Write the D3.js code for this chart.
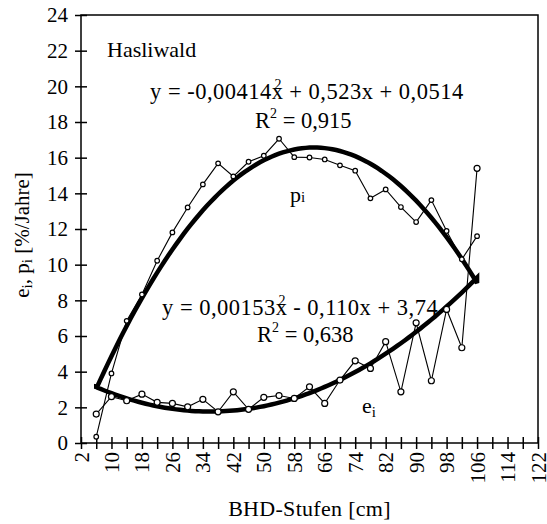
<!DOCTYPE html>
<html>
<head>
<meta charset="utf-8">
<script src="https://cdn.jsdelivr.net/npm/d3@7"></script>
<style>
  html, body { margin: 0; padding: 0; background: #fff; }
</style>
</head>
<body>
<svg id="chart" width="547" height="524"></svg>
<script>
// BHD classes (cm)
const dbhClasses = [6, 10, 14, 18, 22, 26, 30, 34, 38, 42, 46, 50, 54, 58, 62, 66, 70, 74, 78, 82, 86, 90, 94, 98, 102, 106];
// p_i (%/Jahre)
const pValues = [0.35, 3.9, 6.85, 8.33, 10.22, 11.81, 13.21, 14.5, 15.68, 14.95, 15.77, 16.11, 17.06, 16.03, 16.01, 15.9, 15.57, 15.27, 13.72, 14.22, 13.23, 12.39, 13.62, 11.89, 10.3, 11.6];
// e_i (%/Jahre)
const eValues = [1.62, 2.6, 2.37, 2.74, 2.28, 2.22, 2.03, 2.45, 1.75, 2.87, 1.89, 2.56, 2.66, 2.5, 3.15, 2.22, 3.53, 4.61, 4.18, 5.68, 2.87, 6.74, 3.49, 7.49, 5.34, 15.4];
// quadratic trend coefficients [a, b, c] for y = a x^2 + b x + c
const pTrend = [-0.00414, 0.523, 0.0514];
const eTrend = [0.00153, -0.110, 3.74];
const trendRange = [6, 106];
// axis ticks
const xTickValues = d3.range(2, 123, 4);
const xTickLabels = d3.range(2, 123, 8);
const yTickValues = d3.range(0, 25, 2);

const FONT = '"Liberation Serif"';

const svg = d3.select("#chart");
const plotLeft = 81, plotRight = 538, plotTop = 15, plotBottom = 443;

const x = d3.scaleLinear().domain([2, 122]).range([plotLeft, plotRight]);
const y = d3.scaleLinear().domain([0, 24]).range([plotBottom, plotTop]);

// frame
svg.append("rect")
  .attr("x", plotLeft).attr("y", plotTop)
  .attr("width", plotRight - plotLeft).attr("height", plotBottom - plotTop)
  .attr("fill", "none").attr("stroke", "#000").attr("stroke-width", 1.5);

// y axis: ticks crossing the axis line
const yAxis = svg.append("g").attr("transform", `translate(${plotLeft},0)`)
  .call(d3.axisLeft(y).tickValues(yTickValues).tickSize(0).tickPadding(13).tickFormat(d3.format("d")));
yAxis.select(".domain").remove();
yAxis.selectAll("text")
  .style("font-family", FONT).style("font-size", "21px");
yAxis.selectAll(".tick").append("line")
  .attr("x1", -6).attr("x2", 6).attr("stroke", "#000").attr("stroke-width", 1.5);

// x axis: ticks every 4 cm, labels every 8 cm (rotated)
const xAxis = svg.append("g").attr("transform", `translate(0,${plotBottom})`)
  .call(d3.axisBottom(x).tickValues(xTickValues).tickSize(0)
    .tickFormat(d => xTickLabels.includes(d) ? String(d) : ""));
xAxis.select(".domain").remove();
xAxis.selectAll(".tick").append("line")
  .attr("y1", -6).attr("y2", 6).attr("stroke", "#000").attr("stroke-width", 1.5);
xAxis.selectAll("text")
  .style("font-family", FONT).style("font-size", "21px")
  .attr("text-anchor", "end")
  .attr("dominant-baseline", "central")
  .attr("transform", "translate(0,9) rotate(-90)")
  .attr("x", 0).attr("y", 0).attr("dy", null);

// trend curves drawn as one closed outline so both ends meet in corners
const trendX = d3.range(trendRange[0], trendRange[1] + 0.001, 1);
const quad = (c, v) => c[0] * v * v + c[1] * v + c[2];
const outline = trendX.map(v => [x(v), y(quad(pTrend, v))])
  .concat(trendX.slice().reverse().map(v => [x(v), y(quad(eTrend, v))]));
svg.append("path")
  .attr("d", d3.line().curve(d3.curveLinearClosed)(outline))
  .attr("fill", "none").attr("stroke", "#000")
  .attr("stroke-width", 4.5).attr("stroke-linejoin", "miter").attr("stroke-miterlimit", 3);

// observed series
const series = [
  { values: pValues, r: 2.3 },
  { values: eValues, r: 3 }
];
const line = d3.line().x((d, i) => x(dbhClasses[i])).y(d => y(d));
series.forEach(s => {
  svg.append("path").attr("d", line(s.values))
    .attr("fill", "none").attr("stroke", "#000").attr("stroke-width", 1.1);
});
series.forEach(s => {
  svg.append("g").selectAll("circle").data(s.values).join("circle")
    .attr("cx", (d, i) => x(dbhClasses[i])).attr("cy", d => y(d))
    .attr("r", s.r).attr("fill", "#fff").attr("stroke", "#000").attr("stroke-width", 1.2);
});

// annotations
const txt = (xp, yp, size = 21) => svg.append("text").attr("x", xp).attr("y", yp)
  .style("font-family", FONT).style("font-size", size + "px");

txt(107, 57, 22).text("Hasliwald");

// regression equation with the squared exponent set over the x
function equation(xp, yp, head, tail) {
  const t = txt(xp, yp, 22.5).attr("letter-spacing", 0.5);
  t.append("tspan").text(head);
  t.append("tspan").attr("dx", -9).attr("dy", -10).style("font-size", "14px").text("2");
  t.append("tspan").attr("dx", 1).attr("dy", 10).text(tail);
}
function rSquared(xp, yp, val) {
  const t = txt(xp, yp, 22.5);
  t.append("tspan").text("R");
  t.append("tspan").attr("dy", -10).style("font-size", "14px").text("2");
  t.append("tspan").attr("dy", 10).text(" = " + val);
}
equation(150, 99, "y = -0,00414x", " + 0,523x + 0,0514");
rSquared(255, 128, "0,915");
equation(162, 315, "y = 0,00153x", " - 0,110x + 3,74");
rSquared(257, 342, "0,638");

// series labels
const pl = txt(290, 202, 22);
pl.append("tspan").text("p");
pl.append("tspan").style("font-size", "15px").text("i");
const el = txt(362, 413, 22);
el.append("tspan").text("e");
el.append("tspan").style("font-size", "15px").attr("dy", 4).text("i");

// axis titles
txt((plotLeft + plotRight) / 2, 516, 22)
  .attr("text-anchor", "middle").attr("letter-spacing", 0.3)
  .text("BHD-Stufen [cm]");

const yt = svg.append("text").attr("transform", "translate(29,235) rotate(-90)")
  .style("font-family", FONT).style("font-size", "21px")
  .attr("text-anchor", "middle");
yt.append("tspan").text("e");
yt.append("tspan").style("font-size", "15px").attr("dy", 3).text("i");
yt.append("tspan").attr("dy", -3).text(", p");
yt.append("tspan").style("font-size", "15px").attr("dy", 3).text("i");
yt.append("tspan").attr("dy", -3).text(" [%/Jahre]");
</script>
</body>
</html>
